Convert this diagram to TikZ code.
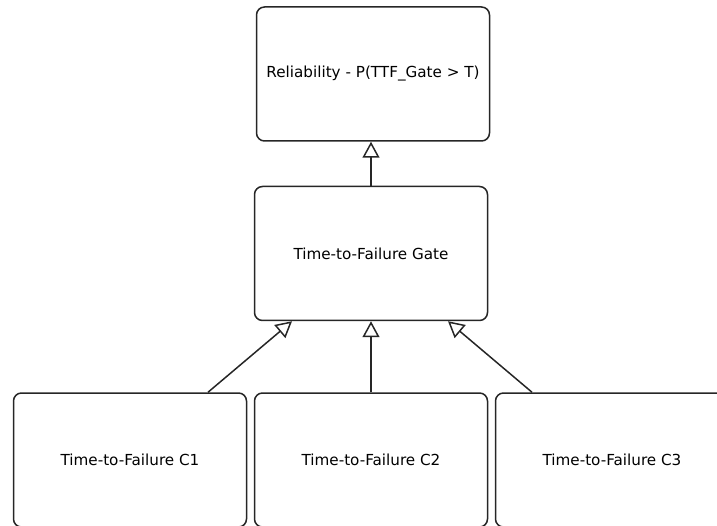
\documentclass[tikz,border=0pt]{standalone}
\usepackage{fontspec}
\setmainfont{DejaVu Sans}
\usetikzlibrary{arrows.meta}

\begin{document}
\begin{tikzpicture}[x=1pt, y=-1pt]
                \clip (0,0) rectangle (717,526);
                \begin{scope}[every node/.style={draw=black!85, line width=1.5pt, rounded corners=8pt, minimum width=233pt, minimum height=134pt, inner sep=0, font=\fontsize{15.2}{18}\selectfont}]
                        \node (Rel) at (373,74) {Reliability - P(TTF\_Gate > T)};
                        \node (Gate) at (371,253.5) {Time-to-Failure Gate};
                        \node (C1) at (130,460) {Time-to-Failure C1};
                        \node (C2) at (371,460) {Time-to-Failure C2};
                        \node (C3) at (612,460) {Time-to-Failure C3};
                \end{scope}
                \begin{scope}[conn/.style={draw=black!85, line width=1.5pt, -{Triangle[open, length=16pt, width=17pt]}}]
                        \draw[conn] (Gate.north) -- (Gate.north |- Rel.south);
                        \draw[conn] ([xshift=78pt]C1.north) -- ([xshift=-79pt]Gate.south);
                        \draw[conn] (C2.north) -- (Gate.south);
                        \draw[conn] ([xshift=-80pt]C3.north) -- ([xshift=77pt]Gate.south);
                \end{scope}
        \end{tikzpicture}
\end{document}
